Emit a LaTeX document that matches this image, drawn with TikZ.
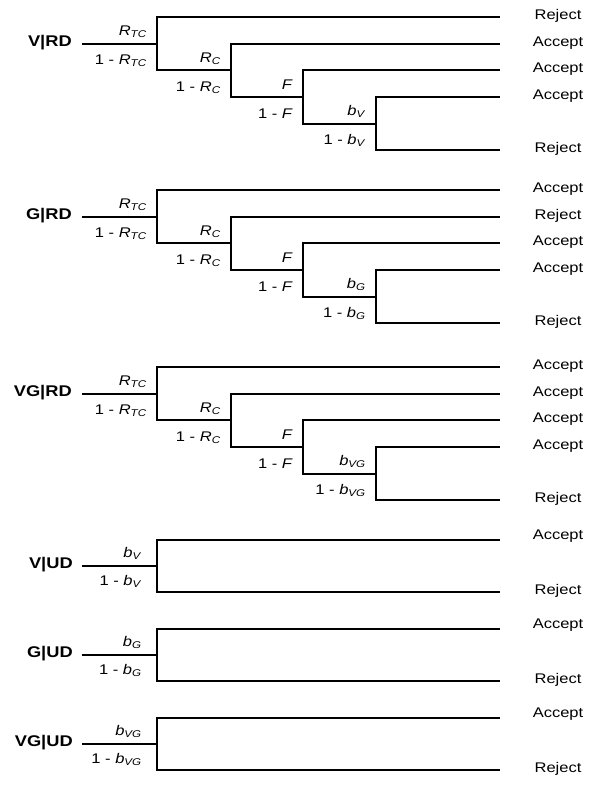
\documentclass[tikz,border=0pt]{standalone}
\usepackage{fontspec}
\setmainfont{Liberation Sans}
\usetikzlibrary{positioning}

\tikzset{
  branch/.style = {line width=1.9pt, black},
  treetext/.style = {font=\fontsize{14}{16}\selectfont, inner sep=0pt,
    xscale=1.18},
  outcome/.style = {treetext, anchor=mid},% issue d'une branche
  rootlab/.style = {treetext, font=\fontsize{15.5}{18}\selectfont\bfseries,
    anchor=mid east},% nom de l'arbre
  prob/.style = {treetext, anchor=base east}% probabilite d'une branche
}
\newcommand{\probsub}[2]{\textit{#1}\textsubscript{\textit{#2}}}

\begin{document}
\begin{tikzpicture}[x=1pt, y=-1pt]
\useasboundingbox (0,0) rectangle (606,788);
% arbres RD
\foreach \top/\lab/\first/\second/\b [count=\i] in
  {17/V|RD/Reject/Accept/V, 190/G|RD/Accept/Reject/G,
   367/VG|RD/Accept/Accept/VG}{
  \begin{scope}[shift={(0,\top)}, y=-26.67pt]
    \coordinate (rd\i-s) at (82,1);
    \coordinate (rd\i-j1) at (157,1);
    \coordinate (rd\i-j2) at (231,2);
    \coordinate (rd\i-j3) at (303,3);
    \coordinate (rd\i-j4) at (376,4);
    \coordinate (rd\i-l1) at (500,0);
    \coordinate (rd\i-l2) at (500,1);
    \coordinate (rd\i-l3) at (500,2);
    \coordinate (rd\i-l4) at (500,3);
    \coordinate (rd\i-l5) at (500,5);
    \draw[branch] (rd\i-s) -- (rd\i-j1) |- (rd\i-l1);
    \draw[branch] (rd\i-j1) |- (rd\i-j2) |- (rd\i-l2);
    \draw[branch] (rd\i-j2) |- (rd\i-j3) |- (rd\i-l3);
    \draw[branch] (rd\i-j3) |- (rd\i-j4) |- (rd\i-l4);
    \draw[branch] (rd\i-j4) |- (rd\i-l5);
    \node[rootlab, left=10pt of rd\i-s, anchor=mid east] (rd\i-name) {\lab};
    \node[prob] (rd\i-p1) at ([shift={(-10pt,8pt)}]rd\i-j1) {\probsub{R}{TC}};
    \node[prob] (rd\i-q1) at ([shift={(-10pt,-21pt)}]rd\i-j1) {1 - \probsub{R}{TC}};
    \node[prob] (rd\i-p2) at ([shift={(-10pt,8pt)}]rd\i-j2) {\probsub{R}{C}};
    \node[prob] (rd\i-q2) at ([shift={(-10pt,-21pt)}]rd\i-j2) {1 - \probsub{R}{C}};
    \node[prob] (rd\i-p3) at ([shift={(-10pt,8pt)}]rd\i-j3) {\textit{F}};
    \node[prob] (rd\i-q3) at ([shift={(-10pt,-21pt)}]rd\i-j3) {1 - \textit{F}};
    \node[prob] (rd\i-p4) at ([shift={(-10pt,8pt)}]rd\i-j4) {\probsub{b}{\b}};
    \node[prob] (rd\i-q4) at ([shift={(-10pt,-21pt)}]rd\i-j4) {1 - \probsub{b}{\b}};
    \node[outcome] (rd\i-o1) at ([xshift=58pt]rd\i-l1) {\first};
    \node[outcome] (rd\i-o2) at ([xshift=58pt]rd\i-l2) {\second};
    \node[outcome] (rd\i-o3) at ([xshift=58pt]rd\i-l3) {Accept};
    \node[outcome] (rd\i-o4) at ([xshift=58pt]rd\i-l4) {Accept};
    \node[outcome] (rd\i-o5) at ([xshift=58pt]rd\i-l5) {Reject};
  \end{scope}
}
% arbres UD
\foreach \top/\lab/\b [count=\i] in
  {540/V|UD/V, 629/G|UD/G, 718/VG|UD/VG}{
  \begin{scope}[shift={(0,\top)}, y=-26pt]
    \coordinate (ud\i-s) at (82,1);
    \coordinate (ud\i-j1) at (157,1);
    \coordinate (ud\i-l1) at (500,0);
    \coordinate (ud\i-l2) at (500,2);
    \draw[branch] (ud\i-s) -- (ud\i-j1) |- (ud\i-l1);
    \draw[branch] (ud\i-j1) |- (ud\i-l2);
    \node[rootlab, left=9pt of ud\i-s, anchor=mid east] (ud\i-name) {\lab};
    \node[prob] (ud\i-p1) at ([shift={(-15pt,9pt)}]ud\i-j1) {\probsub{b}{\b}};
    \node[prob] (ud\i-q1) at ([shift={(-15pt,-19pt)}]ud\i-j1) {1 - \probsub{b}{\b}};
    \node[outcome] (ud\i-o1) at ([shift={(58pt,3pt)}]ud\i-l1) {Accept};
    \node[outcome] (ud\i-o2) at ([xshift=58pt]ud\i-l2) {Reject};
  \end{scope}
}
\end{tikzpicture}
\end{document}
